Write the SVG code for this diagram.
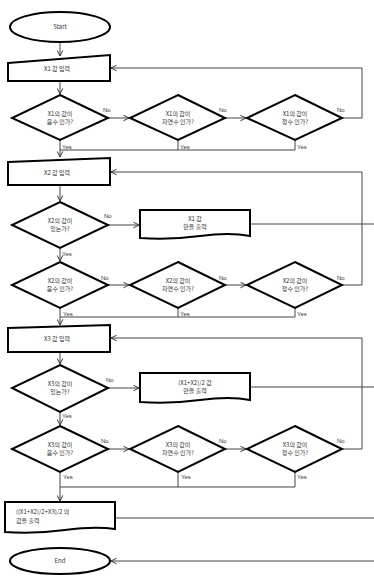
<svg xmlns="http://www.w3.org/2000/svg" width="374" height="576" viewBox="0 0 374 576">
<defs>
<marker id="ah" viewBox="0 0 10 10" refX="9" refY="5" markerWidth="7" markerHeight="7" orient="auto-start-reverse" markerUnits="userSpaceOnUse">
<path d="M1,1 L9,5 L1,9" fill="none" stroke="#333" stroke-width="1.4"/>
</marker>
<style>
.sh{fill:#fff;stroke:#000;stroke-width:2}
.ln{fill:none;stroke:#444;stroke-width:1}
.t{font-family:"Noto Sans CJK KR","Liberation Sans",sans-serif;font-size:6px;fill:#333;text-anchor:middle}
.tl{font-family:"Noto Sans CJK KR","Liberation Sans",sans-serif;font-size:6px;fill:#333}
.l{font-family:"Liberation Sans",sans-serif;font-size:6px;fill:#333}
</style>
</defs>
<rect width="374" height="576" fill="#fff"/>
<g id="connectors">
<path class="ln" d="M60,42 V56" marker-end="url(#ah)"/>
<path class="ln" d="M60,81 V94" marker-end="url(#ah)"/>
<path class="ln" d="M108,118 H129" marker-end="url(#ah)"/>
<path class="ln" d="M225,118 H246" marker-end="url(#ah)"/>
<path class="ln" d="M342,118 H362 V68 H111" marker-end="url(#ah)"/>
<path class="ln" d="M60,140 V157" marker-end="url(#ah)"/>
<path class="ln" d="M178,140 V150 H60"/>
<path class="ln" d="M295,140 V150 H178"/>
<path class="ln" d="M60,185 V201" marker-end="url(#ah)"/>
<path class="ln" d="M108,225 H139" marker-end="url(#ah)"/>
<path class="ln" d="M250,224 H374"/>
<path class="ln" d="M60,248 V261" marker-end="url(#ah)"/>
<path class="ln" d="M108,285 H129" marker-end="url(#ah)"/>
<path class="ln" d="M225,285 H246" marker-end="url(#ah)"/>
<path class="ln" d="M342,285 H362 V172 H111" marker-end="url(#ah)"/>
<path class="ln" d="M60,308 V325" marker-end="url(#ah)"/>
<path class="ln" d="M178,308 V317 H60"/>
<path class="ln" d="M295,308 V317 H178"/>
<path class="ln" d="M60,352 V364" marker-end="url(#ah)"/>
<path class="ln" d="M108,388 H139" marker-end="url(#ah)"/>
<path class="ln" d="M250,387 H374"/>
<path class="ln" d="M60,412 V425" marker-end="url(#ah)"/>
<path class="ln" d="M108,449 H129" marker-end="url(#ah)"/>
<path class="ln" d="M225,449 H246" marker-end="url(#ah)"/>
<path class="ln" d="M342,449 H362 V338 H111" marker-end="url(#ah)"/>
<path class="ln" d="M60,472 V501" marker-end="url(#ah)"/>
<path class="ln" d="M178,472 V487 H60"/>
<path class="ln" d="M295,472 V487 H178"/>
<path class="ln" d="M115,518 H374"/>
<path class="ln" d="M374,561 H111" marker-end="url(#ah)"/>
<text class="l" x="103" y="112">No</text>
<text class="l" x="219" y="112">No</text>
<text class="l" x="337" y="112">No</text>
<text class="l" x="62" y="149">Yes</text>
<text class="l" x="180" y="149">Yes</text>
<text class="l" x="297" y="149">Yes</text>
<text class="l" x="104" y="218">No</text>
<text class="l" x="62" y="256">Yes</text>
<text class="l" x="101" y="280">No</text>
<text class="l" x="219" y="280">No</text>
<text class="l" x="337" y="280">No</text>
<text class="l" x="63" y="316">Yes</text>
<text class="l" x="180" y="316">Yes</text>
<text class="l" x="297" y="316">Yes</text>
<text class="l" x="106" y="382">No</text>
<text class="l" x="62" y="418">Yes</text>
<text class="l" x="101" y="443">No</text>
<text class="l" x="219" y="443">No</text>
<text class="l" x="337" y="443">No</text>
<text class="l" x="63" y="479">Yes</text>
<text class="l" x="181" y="479">Yes</text>
<text class="l" x="297" y="479">Yes</text>
</g>
<g id="start"><ellipse class="sh" cx="60" cy="27" rx="50" ry="15"/><text class="t" x="60" y="29">Start</text></g>
<g id="in1"><path class="sh" d="M8,63 L110,55 V81 H8 Z"/><text class="t" x="57" y="71">X1 값 입력</text></g>
<g id="d11"><path class="sh" d="M60,95 L108,118 L60,140 L12,118 Z"/><text class="t" x="60" y="116">X1의 값이</text><text class="t" x="60" y="124">음수 인가?</text></g>
<g id="d12"><path class="sh" d="M178,95 L225,118 L178,140 L130,118 Z"/><text class="t" x="178" y="116">X1의 값이</text><text class="t" x="178" y="124">자연수 인가?</text></g>
<g id="d13"><path class="sh" d="M295,95 L342,118 L295,140 L247,118 Z"/><text class="t" x="295" y="116">X1의 값이</text><text class="t" x="295" y="124">정수 인가?</text></g>
<g id="in2"><path class="sh" d="M8,162 L110,158 V185 H8 Z"/><text class="t" x="57" y="175">X2 값 입력</text></g>
<g id="d2e"><path class="sh" d="M60,202 L108,225 L60,248 L12,225 Z"/><text class="t" x="60" y="223">X2의 값이</text><text class="t" x="60" y="231">있는가?</text></g>
<g id="out1"><path class="sh" d="M140,210 H250 V236 Q230,232 200,236 T140,238 Z"/><text class="t" x="195" y="221">X1 값</text><text class="t" x="195" y="229">만을 출력</text></g>
<g id="d21"><path class="sh" d="M60,262 L108,285 L60,308 L12,285 Z"/><text class="t" x="60" y="283">X2의 값이</text><text class="t" x="60" y="291">음수 인가?</text></g>
<g id="d22"><path class="sh" d="M178,262 L225,285 L178,308 L130,285 Z"/><text class="t" x="178" y="283">X2의 값이</text><text class="t" x="178" y="291">자연수 인가?</text></g>
<g id="d23"><path class="sh" d="M295,262 L342,285 L295,308 L247,285 Z"/><text class="t" x="295" y="283">X2의 값이</text><text class="t" x="295" y="291">정수 인가?</text></g>
<g id="in3"><path class="sh" d="M8,328 L110,325 V352 H8 Z"/><text class="t" x="57" y="341">X3 값 입력</text></g>
<g id="d3e"><path class="sh" d="M60,365 L108,388 L60,412 L12,388 Z"/><text class="t" x="60" y="386">X3의 값이</text><text class="t" x="60" y="394">있는가?</text></g>
<g id="out2"><path class="sh" d="M140,373 H250 V400 Q230,396 200,400 T140,402 Z"/><text class="t" x="195" y="385">(X1+X2)/2 값</text><text class="t" x="195" y="393">만을 출력</text></g>
<g id="d31"><path class="sh" d="M60,426 L108,449 L60,472 L12,449 Z"/><text class="t" x="60" y="447">X3의 값이</text><text class="t" x="60" y="455">음수 인가?</text></g>
<g id="d32"><path class="sh" d="M178,426 L225,449 L178,472 L130,449 Z"/><text class="t" x="178" y="447">X3의 값이</text><text class="t" x="178" y="455">자연수 인가?</text></g>
<g id="d33"><path class="sh" d="M295,426 L342,449 L295,472 L247,449 Z"/><text class="t" x="295" y="447">X3의 값이</text><text class="t" x="295" y="455">정수 인가?</text></g>
<g id="out3"><path class="sh" d="M5,502 H115 V529 Q95,526 65,530 T5,532 Z"/><text class="tl" x="16" y="514">((X1+X2)/2+X3)/2 의</text><text class="tl" x="16" y="523">값을 출력</text></g>
<g id="end"><ellipse class="sh" cx="60" cy="561" rx="50" ry="13"/><text class="t" x="60" y="563">End</text></g>
</svg>
